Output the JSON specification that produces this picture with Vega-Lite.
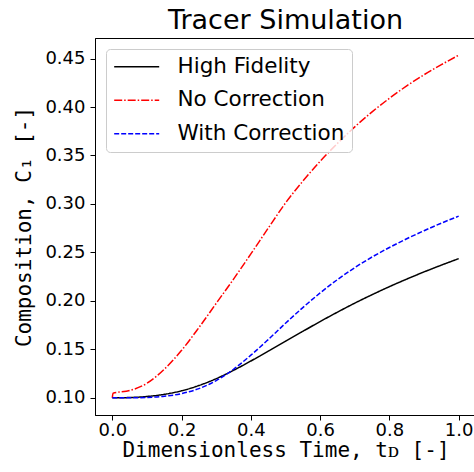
{
  "$schema": "https://vega.github.io/schema/vega-lite/v6.json",
  "width": 381,
  "height": 377,
  "autosize": {"type": "none"},
  "padding": {"left": 95, "top": 38, "right": 0, "bottom": 57},
  "background": "white",
  "title": {
    "text": "Tracer Simulation",
    "font": "DejaVu Sans",
    "fontSize": 27,
    "fontWeight": "normal",
    "color": "black",
    "baseline": "alphabetic",
    "frame": "group",
    "offset": 8,
    "dy": 26,
    "anchor": "middle"
  },
  "data": {
    "values": [
      {"series": "High Fidelity", "t": 0.00, "c": 0.1000},
      {"series": "High Fidelity", "t": 0.05, "c": 0.1003},
      {"series": "High Fidelity", "t": 0.10, "c": 0.1014},
      {"series": "High Fidelity", "t": 0.15, "c": 0.1036},
      {"series": "High Fidelity", "t": 0.20, "c": 0.1073},
      {"series": "High Fidelity", "t": 0.25, "c": 0.1127},
      {"series": "High Fidelity", "t": 0.30, "c": 0.1198},
      {"series": "High Fidelity", "t": 0.35, "c": 0.1284},
      {"series": "High Fidelity", "t": 0.40, "c": 0.1380},
      {"series": "High Fidelity", "t": 0.45, "c": 0.1481},
      {"series": "High Fidelity", "t": 0.50, "c": 0.1584},
      {"series": "High Fidelity", "t": 0.55, "c": 0.1686},
      {"series": "High Fidelity", "t": 0.60, "c": 0.1787},
      {"series": "High Fidelity", "t": 0.65, "c": 0.1884},
      {"series": "High Fidelity", "t": 0.70, "c": 0.1977},
      {"series": "High Fidelity", "t": 0.75, "c": 0.2064},
      {"series": "High Fidelity", "t": 0.80, "c": 0.2147},
      {"series": "High Fidelity", "t": 0.85, "c": 0.2225},
      {"series": "High Fidelity", "t": 0.90, "c": 0.2299},
      {"series": "High Fidelity", "t": 0.95, "c": 0.2369},
      {"series": "High Fidelity", "t": 1.00, "c": 0.2436},

      {"series": "No Correction", "t": 0.000, "c": 0.1000},
      {"series": "No Correction", "t": 0.002, "c": 0.1048},
      {"series": "No Correction", "t": 0.05, "c": 0.1075},
      {"series": "No Correction", "t": 0.10, "c": 0.1150},
      {"series": "No Correction", "t": 0.15, "c": 0.1295},
      {"series": "No Correction", "t": 0.20, "c": 0.1490},
      {"series": "No Correction", "t": 0.25, "c": 0.1725},
      {"series": "No Correction", "t": 0.30, "c": 0.1975},
      {"series": "No Correction", "t": 0.35, "c": 0.2225},
      {"series": "No Correction", "t": 0.40, "c": 0.2485},
      {"series": "No Correction", "t": 0.45, "c": 0.2750},
      {"series": "No Correction", "t": 0.50, "c": 0.3010},
      {"series": "No Correction", "t": 0.55, "c": 0.3235},
      {"series": "No Correction", "t": 0.60, "c": 0.3440},
      {"series": "No Correction", "t": 0.65, "c": 0.3625},
      {"series": "No Correction", "t": 0.70, "c": 0.3795},
      {"series": "No Correction", "t": 0.75, "c": 0.3950},
      {"series": "No Correction", "t": 0.80, "c": 0.4090},
      {"series": "No Correction", "t": 0.85, "c": 0.4218},
      {"series": "No Correction", "t": 0.90, "c": 0.4333},
      {"series": "No Correction", "t": 0.95, "c": 0.4437},
      {"series": "No Correction", "t": 1.00, "c": 0.4535},

      {"series": "With Correction", "t": 0.00, "c": 0.1000},
      {"series": "With Correction", "t": 0.05, "c": 0.10005},
      {"series": "With Correction", "t": 0.10, "c": 0.1004},
      {"series": "With Correction", "t": 0.15, "c": 0.1016},
      {"series": "With Correction", "t": 0.20, "c": 0.1044},
      {"series": "With Correction", "t": 0.25, "c": 0.1095},
      {"series": "With Correction", "t": 0.30, "c": 0.1178},
      {"series": "With Correction", "t": 0.35, "c": 0.1295},
      {"series": "With Correction", "t": 0.40, "c": 0.1440},
      {"series": "With Correction", "t": 0.45, "c": 0.1601},
      {"series": "With Correction", "t": 0.50, "c": 0.1769},
      {"series": "With Correction", "t": 0.55, "c": 0.1931},
      {"series": "With Correction", "t": 0.60, "c": 0.2082},
      {"series": "With Correction", "t": 0.65, "c": 0.2220},
      {"series": "With Correction", "t": 0.70, "c": 0.2343},
      {"series": "With Correction", "t": 0.75, "c": 0.2453},
      {"series": "With Correction", "t": 0.80, "c": 0.2551},
      {"series": "With Correction", "t": 0.85, "c": 0.2641},
      {"series": "With Correction", "t": 0.90, "c": 0.2724},
      {"series": "With Correction", "t": 0.95, "c": 0.2802},
      {"series": "With Correction", "t": 1.00, "c": 0.2874}
    ]
  },
  "mark": {"type": "line", "strokeWidth": 1.5, "interpolate": "monotone", "clip": true},
  "encoding": {
    "x": {
      "field": "t",
      "type": "quantitative",
      "scale": {"domain": [-0.05, 1.05], "nice": false, "zero": false},
      "axis": {
        "title": "Dimensionless Time, tᴅ [-]",
        "titleFont": "DejaVu Sans Mono",
        "titleFontSize": 21,
        "titleFontWeight": "normal",
        "titleColor": "black",
        "titleBaseline": "alphabetic",
        "titleY": 41,
        "values": [0, 0.2, 0.4, 0.6, 0.8, 1.0],
        "format": ".1f",
        "labelFont": "DejaVu Sans",
        "labelFontSize": 18,
        "labelColor": "black",
        "labelPadding": 1,
        "labelFlush": false,
        "labelOverlap": false,
        "tickSize": 5,
        "tickColor": "black",
        "tickWidth": 1,
        "domainColor": "black",
        "grid": false
      }
    },
    "y": {
      "field": "c",
      "type": "quantitative",
      "scale": {"domain": [0.0823, 0.4712], "nice": false, "zero": false},
      "axis": {
        "title": "Composition, C₁ [-]",
        "titleFont": "DejaVu Sans Mono",
        "titleFontSize": 21,
        "titleFontWeight": "normal",
        "titleColor": "black",
        "titleAngle": 270,
        "titleBaseline": "alphabetic",
        "titleX": -65,
        "values": [0.10, 0.15, 0.20, 0.25, 0.30, 0.35, 0.40, 0.45],
        "format": ".2f",
        "labelFont": "DejaVu Sans",
        "labelFontSize": 18,
        "labelColor": "black",
        "labelPadding": 5,
        "labelFlush": false,
        "labelOverlap": false,
        "tickSize": 5,
        "tickColor": "black",
        "tickWidth": 1,
        "domainColor": "black",
        "grid": false
      }
    },
    "color": {
      "field": "series",
      "type": "nominal",
      "scale": {
        "domain": ["High Fidelity", "No Correction", "With Correction"],
        "range": ["#000000", "#ff0000", "#0000ff"]
      },
      "legend": {
        "title": null,
        "orient": "none",
        "legendX": 11,
        "legendY": 11,
        "padding": 7,
        "fillColor": "rgba(255,255,255,0.8)",
        "strokeColor": "#cccccc",
        "cornerRadius": 4,
        "symbolType": "M-1.7,0H6.3",
        "symbolSize": 126.6,
        "symbolStrokeWidth": 1.5,
        "symbolFillColor": "transparent",
        "labelFont": "DejaVu Sans",
        "labelFontSize": 21.5,
        "labelColor": "black",
        "labelOffset": 43,
        "labelLimit": 400,
        "rowPadding": 10.5
      }
    },
    "strokeDash": {
      "field": "series",
      "type": "nominal",
      "scale": {
        "domain": ["High Fidelity", "No Correction", "With Correction"],
        "range": [[1, 0], [8, 2, 1.5, 2], [5, 2]]
      },
      "legend": {
        "title": null,
        "orient": "none",
        "legendX": 11,
        "legendY": 11,
        "padding": 7,
        "fillColor": "rgba(255,255,255,0.8)",
        "strokeColor": "#cccccc",
        "cornerRadius": 4,
        "symbolType": "M-1.7,0H6.3",
        "symbolSize": 126.6,
        "symbolStrokeWidth": 1.5,
        "symbolFillColor": "transparent",
        "labelFont": "DejaVu Sans",
        "labelFontSize": 21.5,
        "labelColor": "black",
        "labelOffset": 43,
        "labelLimit": 400,
        "rowPadding": 10.5
      }
    }
  },
  "config": {
    "view": {"stroke": "black", "strokeWidth": 1}
  }
}
